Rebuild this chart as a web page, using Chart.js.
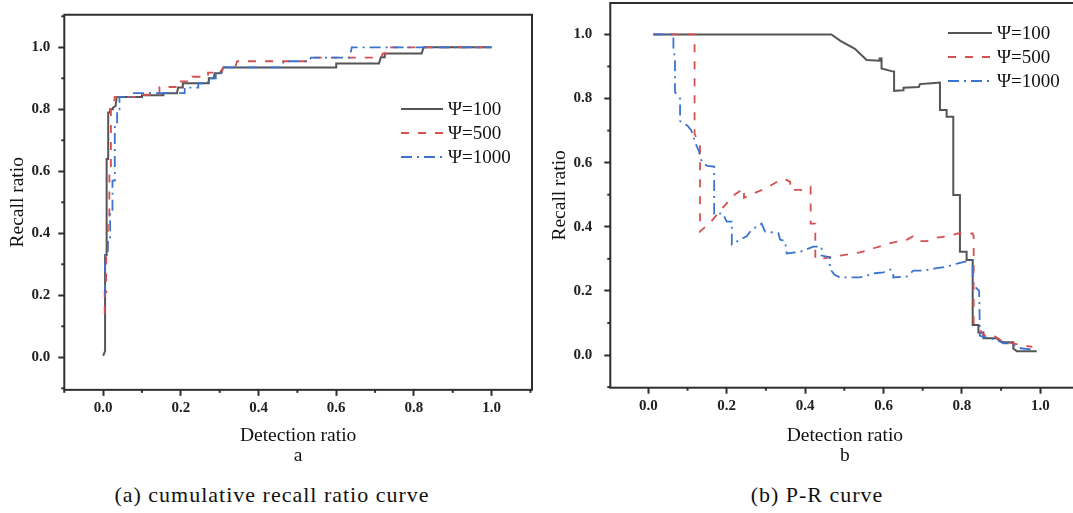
<!DOCTYPE html>
<html><head><meta charset="utf-8">
<script src="https://cdn.jsdelivr.net/npm/chart.js@4.4.1/dist/chart.umd.min.js"></script>
<style>
html,body{margin:0;padding:0;background:#fff;width:1073px;height:513px;overflow:hidden;position:relative;}
.wrap{position:absolute;top:0;width:540px;height:470px;}
#wa{left:0;} #wb{left:540px;}
.cap{position:absolute;top:482px;font-family:'Liberation Serif',serif;font-size:22px;letter-spacing:1px;color:#111;white-space:nowrap;transform:translateX(-50%);line-height:26px;}
.leg{position:absolute;height:24px;display:flex;align-items:center;font-family:'Liberation Serif',serif;font-size:19px;color:#111;white-space:nowrap;}
.leg svg{margin-right:5px;}
</style></head>
<body>
<div class="wrap" id="wa"><canvas id="ca" width="540" height="470"></canvas></div>
<div class="wrap" id="wb"><canvas id="cb" width="540" height="470"></canvas></div>
<div class="cap" style="left:272px">(a) cumulative recall ratio curve</div>
<div class="cap" style="left:817px">(b) P-R curve</div>
<div id="legs"></div>
<script>
// ---------- data ----------
const seriesLabels = ['\u03A8=100', '\u03A8=500', '\u03A8=1000'];
const tickValues = [-0.1,0,0.1,0.2,0.3,0.4,0.5,0.6,0.7,0.8,0.9,1.0,1.1];
const tickLabels = ['0.0','0.2','0.4','0.6','0.8','1.0'];

// (a) cumulative recall ratio curve
const aX100 = [0,0.005,0.005,0.009,0.009,0.013,0.013,0.018,0.018,0.025,0.025,0.032,0.035,0.1,0.1,0.155,0.155,0.19,0.193,0.205,0.205,0.27,0.272,0.285,0.287,0.3,0.31,0.6,0.6,0.71,0.715,0.725,0.725,0.82,0.825,1.0];
const aY100 = [0.005,0.02,0.33,0.33,0.64,0.64,0.79,0.79,0.80,0.80,0.805,0.81,0.84,0.84,0.845,0.845,0.852,0.852,0.87,0.87,0.884,0.884,0.9,0.9,0.916,0.916,0.935,0.935,0.948,0.948,0.968,0.968,0.98,0.98,1.0,1.0];
const aX500 = [0.004,0.004,0.008,0.008,0.012,0.012,0.016,0.016,0.02,0.02,0.025,0.03,0.09,0.09,0.145,0.145,0.195,0.195,0.23,0.23,0.27,0.27,0.305,0.31,0.34,0.345,0.535,0.54,0.715,0.72,0.73,0.73,1.0];
const aY500 = [0.14,0.21,0.21,0.33,0.33,0.43,0.43,0.6,0.6,0.8,0.8,0.84,0.84,0.847,0.847,0.872,0.872,0.89,0.89,0.905,0.905,0.918,0.918,0.937,0.937,0.955,0.955,0.967,0.967,0.98,0.98,1.0,1.0];
const aX1000 = [0.005,0.005,0.012,0.012,0.018,0.018,0.024,0.024,0.03,0.03,0.036,0.036,0.042,0.042,0.075,0.075,0.21,0.21,0.245,0.245,0.27,0.27,0.29,0.29,0.305,0.31,0.46,0.465,0.53,0.535,0.635,0.64,1.0];
const aY1000 = [0.2,0.33,0.33,0.38,0.38,0.47,0.47,0.57,0.57,0.75,0.75,0.8,0.8,0.84,0.84,0.852,0.852,0.87,0.87,0.884,0.884,0.9,0.9,0.916,0.916,0.935,0.935,0.955,0.955,0.967,0.967,1.0,1.0];

// (b) P-R curve
const bX100 = [0.013,0.467,0.49,0.527,0.557,0.59,0.59,0.595,0.595,0.625,0.627,0.627,0.65,0.651,0.69,0.693,0.723,0.744,0.744,0.761,0.761,0.778,0.778,0.795,0.795,0.812,0.812,0.8275,0.8275,0.842,0.842,0.855,0.855,0.889,0.895,0.906,0.931,0.931,0.94,0.991];
const bY100 = [1.0,1.0,0.98,0.955,0.92,0.918,0.925,0.925,0.894,0.884,0.884,0.824,0.826,0.834,0.836,0.845,0.848,0.85,0.764,0.764,0.743,0.743,0.499,0.499,0.322,0.322,0.296,0.296,0.0935,0.0935,0.07,0.07,0.052,0.052,0.045,0.04,0.04,0.02,0.012,0.012];
const bX500 = [0.013,0.118,0.118,0.132,0.132,0.16,0.19,0.22,0.244,0.244,0.27,0.3,0.335,0.35,0.362,0.362,0.392,0.414,0.414,0.426,0.426,0.44,0.47,0.49,0.54,0.575,0.62,0.66,0.675,0.69,0.71,0.73,0.76,0.79,0.8275,0.83,0.83,0.84,0.855,0.88,0.9,0.91,0.95,0.98];
const bY500 = [1.0,1.0,0.69,0.65,0.385,0.416,0.46,0.5,0.52,0.49,0.505,0.52,0.545,0.548,0.54,0.515,0.515,0.525,0.41,0.41,0.3,0.3,0.306,0.31,0.32,0.333,0.35,0.36,0.37,0.355,0.355,0.365,0.37,0.379,0.379,0.37,0.1,0.09,0.062,0.062,0.045,0.041,0.031,0.025];
const bX1000 = [0.013,0.064,0.064,0.068,0.068,0.081,0.081,0.1,0.11,0.12,0.128,0.137,0.15,0.168,0.168,0.19,0.2,0.213,0.213,0.234,0.251,0.263,0.289,0.298,0.332,0.336,0.349,0.353,0.387,0.404,0.421,0.442,0.442,0.463,0.463,0.475,0.49,0.54,0.578,0.6,0.617,0.625,0.625,0.66,0.676,0.702,0.732,0.76,0.79,0.8275,0.8275,0.844,0.846,0.889,0.906,0.923,0.95,0.986];
const bY1000 = [1.0,1.0,0.95,0.93,0.82,0.8,0.73,0.715,0.7,0.66,0.64,0.6,0.59,0.588,0.44,0.442,0.416,0.416,0.345,0.36,0.37,0.39,0.41,0.385,0.38,0.36,0.355,0.317,0.322,0.33,0.338,0.338,0.31,0.305,0.27,0.25,0.242,0.242,0.255,0.258,0.267,0.26,0.242,0.245,0.263,0.263,0.27,0.275,0.286,0.296,0.22,0.2,0.06,0.047,0.036,0.036,0.021,0.016];

// ---------- styles ----------
const styles = [
  {color:'#555555', width:2, dash:[], order:3, svgDash:''},
  {color:'#d65050', width:1.8, dash:[8,9], order:2, svgDash:'8,9'},
  {color:'#3a74cf', width:1.8, dash:[11,5,2,5], order:1, svgDash:'11,5,2,5'}
];
const AX = '#2e2e2e';
const isMajor = v => Math.abs(v*5 - Math.round(v*5)) < 1e-6 && v > -0.01 && v < 1.01;

const boxPlugin = {
  id:'box',
  afterDraw(chart){
    const {ctx, chartArea:a, scales} = chart;
    ctx.save();
    ctx.strokeStyle = AX; ctx.lineWidth = 2;
    ctx.strokeRect(a.left, a.top, a.right - a.left, a.bottom - a.top);
    scales.x.ticks.forEach(t => {
      if (isMajor(t.value)) return;
      const px = scales.x.getPixelForValue(t.value);
      ctx.beginPath(); ctx.moveTo(px, a.bottom); ctx.lineTo(px, a.bottom + 3); ctx.stroke();
    });
    scales.y.ticks.forEach(t => {
      if (isMajor(t.value)) return;
      const py = scales.y.getPixelForValue(t.value);
      ctx.beginPath(); ctx.moveTo(a.left, py); ctx.lineTo(a.left - 3, py); ctx.stroke();
    });
    ctx.restore();
  }
};

function makeChart(id, xs, ys, g){
  const datasets = xs.map((xa, k) => ({
    label: seriesLabels[k],
    data: xa.map((x, i) => ({x: x, y: ys[k][i]})),
    borderColor: styles[k].color, borderWidth: styles[k].width, borderDash: styles[k].dash,
    pointRadius: 0, tension: 0, fill: false, order: styles[k].order
  }));
  const tickFont = {family:'Liberation Serif', size:15, weight:'bold'};
  const titleFont = {family:'Liberation Serif', size:19.5, lineHeight:1};
  const gridOpt = {drawOnChartArea:false, drawTicks:true, tickLength:6, tickWidth:2,
    tickColor: c => isMajor(c.tick.value) ? AX : 'rgba(0,0,0,0)'};
  const labelOf = v => { const i = Math.round(v*5); return isMajor(v) ? tickLabels[i] : ''; };
  const noPad = s => { s.paddingTop = 0; s.paddingBottom = 0; s.paddingLeft = 0; s.paddingRight = 0; };
  return new Chart(document.getElementById(id), {
    type:'line',
    data:{datasets},
    options:{
      responsive:false, animation:false, events:[],
      layout:{padding:{left:0, top:g.top, right:g.right, bottom:0}},
      plugins:{legend:{display:false}, tooltip:{enabled:false}},
      scales:{
        x:{type:'linear', min:g.xmin, max:g.xmax,
          afterBuildTicks: s => { s.ticks = tickValues.filter(v => v >= g.xmin - 1e-9 && v <= g.xmax + 1e-9).map(v => ({value:v})); },
          afterFit: s => { s.height = g.xh; noPad(s); },
          border:{display:false}, grid:gridOpt,
          ticks:{autoSkip:false, maxRotation:0, padding:3, font:tickFont, color:'#222', callback: labelOf},
          title:{display:true, text:['Detection ratio', g.sub], font:titleFont, color:'#111', padding:{top:0, bottom:4.5}}
        },
        y:{type:'linear', min:g.ymin, max:g.ymax,
          afterBuildTicks: s => { s.ticks = tickValues.filter(v => v >= g.ymin - 1e-9 && v <= g.ymax + 1e-9).map(v => ({value:v})); },
          afterFit: s => { s.width = g.yw; noPad(s); },
          border:{display:false}, grid:gridOpt,
          ticks:{autoSkip:false, padding:g.ypad, font:tickFont, color:'#222', callback: labelOf},
          title:{display:true, text:'Recall ratio', font:titleFont, color:'#111', padding:{top:g.ytp, bottom:0}}
        }
      }
    },
    plugins:[boxPlugin]
  });
}

makeChart('ca', [aX100, aX500, aX1000], [aY100, aY500, aY1000],
  {top:14.75, right:8, xh:80.15, yw:64.3, xmin:-0.1, xmax:1.104, ymin:-0.105, ymax:1.105, ypad:8, ytp:8.5, sub:'a'});
makeChart('cb', [bX100, bX500, bX1000], [bY100, bY500, bY1000],
  {top:3, right:0.5, xh:82.3, yw:70.3, xmin:-0.097, xmax:1.1, ymin:-0.102, ymax:1.098, ypad:12, ytp:10, sub:'b'});

// ---------- legends (HTML) ----------
function makeLegend(x, yc, lineW){
  const host = document.getElementById('legs');
  seriesLabels.forEach((lab, k) => {
    const d = document.createElement('div');
    d.className = 'leg';
    d.style.left = x + 'px';
    d.style.top = (yc[k] - 12) + 'px';
    const st = styles[k];
    d.innerHTML = '<svg width="' + lineW + '" height="4"><line x1="0" y1="2" x2="' + lineW + '" y2="2" stroke="' + st.color +
      '" stroke-width="' + st.width + '"' + (st.svgDash ? ' stroke-dasharray="' + st.svgDash + '"' : '') + '/></svg><span>' + lab + '</span>';
    host.appendChild(d);
  });
}
makeLegend(401, [109, 133, 157], 42);
makeLegend(948, [33, 57, 81], 44);
</script>
</body></html>
